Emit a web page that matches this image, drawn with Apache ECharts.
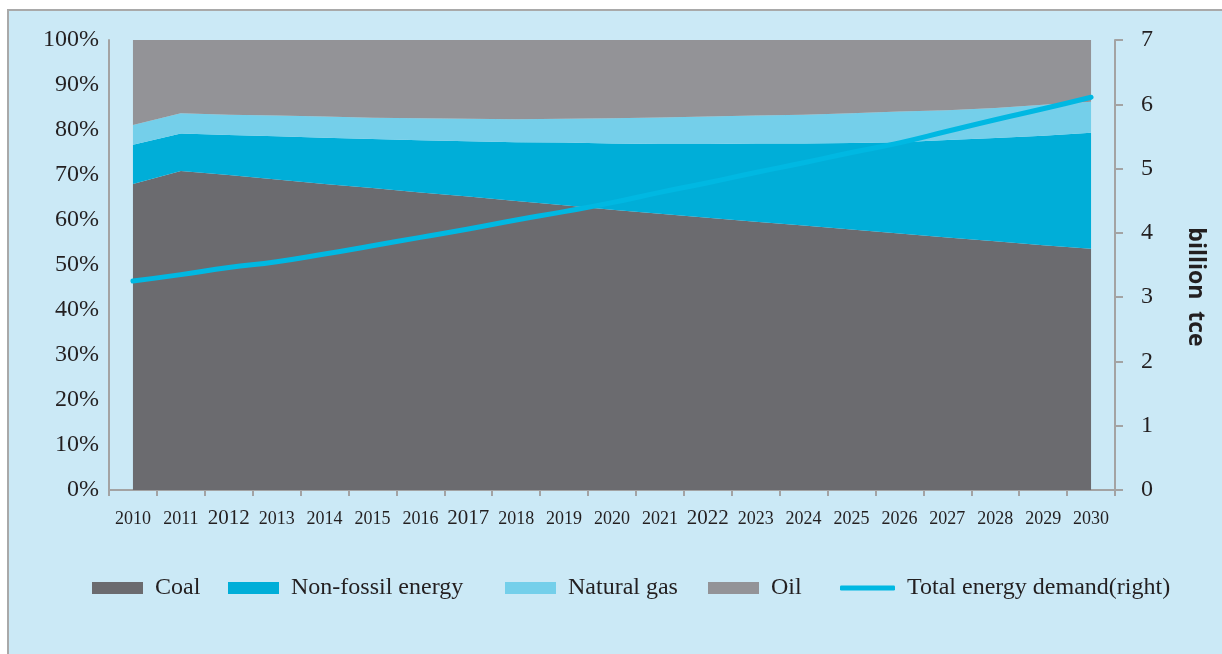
<!DOCTYPE html>
<html>
<head>
<meta charset="utf-8">
<title>Energy mix and total energy demand, 2010–2030</title>
<script src="https://cdn.jsdelivr.net/npm/echarts@6/dist/echarts.min.js"></script>
<style>
  html, body { margin: 0; padding: 0; background: #ffffff; }
  #frame {
    position: absolute; left: 7px; top: 9px; width: 1240px; height: 680px;
    background: #cbe9f6; border: 2px solid #a9a9a9; box-sizing: border-box;
  }
  #chart { position: absolute; left: 0; top: 0; width: 1222px; height: 654px; }
</style>
</head>
<body>
<div id="frame"></div>
<div id="chart"></div>
<script>
// Years on the category axis
const years = ['2010','2011','2012','2013','2014','2015','2016','2017','2018','2019','2020',
               '2021','2022','2023','2024','2025','2026','2027','2028','2029','2030'];
// Year labels printed in a larger size
const largerYears = ['2012','2017','2022'];

// Shares of the primary energy mix, % (stacked bottom to top)
const coalShare      = [68.0,70.9,70.0,69.0,68.0,67.1,66.1,65.2,64.2,63.3,62.3,61.4,60.5,59.6,58.8,57.9,57.0,56.1,55.3,54.4,53.6];
const nonFossilShare = [ 8.7, 8.3, 8.9, 9.6,10.3,10.9,11.6,12.3,13.1,13.9,14.7,15.5,16.4,17.4,18.2,19.2,20.3,21.7,22.9,24.3,25.8];
const gasShare       = [ 4.4, 4.5, 4.5, 4.6, 4.7, 4.7, 4.9, 5.0, 5.1, 5.3, 5.6, 5.9, 6.1, 6.2, 6.4, 6.6, 6.8, 6.6, 6.7, 6.9, 6.9];
const oilShare       = [18.9,16.3,16.6,16.8,17.0,17.3,17.4,17.5,17.6,17.5,17.4,17.2,17.0,16.8,16.6,16.3,15.9,15.6,15.1,14.4,13.7];

// Total energy demand, billion tce (right axis)
const totalDemand = [3.25,3.35,3.46,3.55,3.67,3.80,3.93,4.06,4.20,4.33,4.47,4.63,4.78,4.94,5.09,5.25,5.40,5.58,5.76,5.93,6.11];

// Left axis ticks (%) and right axis ticks (billion tce)
const shareTicks = { min: 0, max: 100, step: 10 };
const demandTicks = { min: 0, max: 7, step: 1 };

const names = ['Coal', 'Non-fossil energy', 'Natural gas', 'Oil', 'Total energy demand(right)'];
const colors = ['#6b6b6f', '#00aed8', '#74cfea', '#939397', '#00b8e2'];

const serif = '"Liberation Serif", "Times New Roman", serif';
const textColor = '#231f20';
const axisGray = '#a3a3a3';

const chart = echarts.init(document.getElementById('chart'), null, { renderer: 'canvas' });

function areaSeries(i, data) {
  return {
    name: names[i], type: 'line', stack: 'mix', data: data,
    symbol: 'none', showSymbol: false,
    lineStyle: { width: 0, color: colors[i] },
    itemStyle: { color: colors[i] },
    areaStyle: { color: colors[i], opacity: 1 },
    emphasis: { disabled: true },
    z: 2
  };
}

// One legend block per entry so each can sit at its own spot on the row
function legendAt(name, left, w, h, icon) {
  return {
    data: [{ name: name, icon: icon }], left: left, top: 576, padding: 0,
    itemWidth: w, itemHeight: h, itemGap: 0,
    textStyle: { fontFamily: serif, fontSize: 24, color: textColor, padding: [0, 0, 0, 7] },
    selectedMode: false
  };
}

chart.setOption({
  backgroundColor: 'transparent',
  animation: false,
  grid: { left: 109, right: 107, top: 40, bottom: 164, containLabel: false },
  legend: [
    legendAt(names[0], 92, 51, 12, 'rect'),
    legendAt(names[1], 228, 51, 12, 'rect'),
    legendAt(names[2], 505, 51, 12, 'rect'),
    legendAt(names[3], 708, 51, 12, 'rect'),
    legendAt(names[4], 840, 55, 5, 'roundRect')
  ],
  xAxis: {
    type: 'category', data: years, boundaryGap: true,
    axisLine: { lineStyle: { color: axisGray, width: 2 } },
    axisTick: { show: true, length: 6, lineStyle: { color: axisGray, width: 2 } },
    axisLabel: {
      interval: 0, margin: 18, color: textColor, fontFamily: serif, fontSize: 18,
      formatter: v => largerYears.includes(v) ? '{big|' + v + '}' : '{n|' + v + '}',
      rich: {
        n: { fontFamily: serif, fontSize: 18, color: textColor, lineHeight: 22 },
        big: { fontFamily: serif, fontSize: 21, color: textColor, lineHeight: 22, padding: [0, 0, 2, 0] }
      }
    },
    splitLine: { show: false }
  },
  yAxis: [
    {
      type: 'value', min: shareTicks.min, max: shareTicks.max, interval: shareTicks.step,
      axisLine: { show: true, lineStyle: { color: axisGray, width: 2 } },
      axisTick: { show: false },
      splitLine: { show: false },
      axisLabel: { formatter: '{value}%', margin: 10, color: textColor, fontFamily: serif, fontSize: 24 }
    },
    {
      type: 'value', position: 'right', min: demandTicks.min, max: demandTicks.max, interval: demandTicks.step,
      axisLine: { show: true, lineStyle: { color: axisGray, width: 2 } },
      axisTick: { show: true, inside: false, length: 8, lineStyle: { color: axisGray, width: 2 } },
      splitLine: { show: false },
      axisLabel: { margin: 26, color: textColor, fontFamily: serif, fontSize: 24 }
    }
  ],
  graphic: [{
    type: 'text', x: 1196, y: 287, rotation: -Math.PI / 2,
    style: {
      text: 'billion  tce', fill: '#231f20',
      font: 'bold 23px "Open Sans", "DejaVu Sans", sans-serif',
      align: 'center', verticalAlign: 'middle'
    }
  }],
  series: [
    areaSeries(0, coalShare),
    areaSeries(1, nonFossilShare),
    areaSeries(2, gasShare),
    areaSeries(3, oilShare),
    {
      name: names[4], type: 'line', yAxisIndex: 1, data: totalDemand,
      smooth: true, symbol: 'none', showSymbol: false,
      lineStyle: { width: 5, color: colors[4], cap: 'round' },
      itemStyle: { color: colors[4] },
      emphasis: { disabled: true },
      z: 5
    }
  ]
});
</script>
</body>
</html>
